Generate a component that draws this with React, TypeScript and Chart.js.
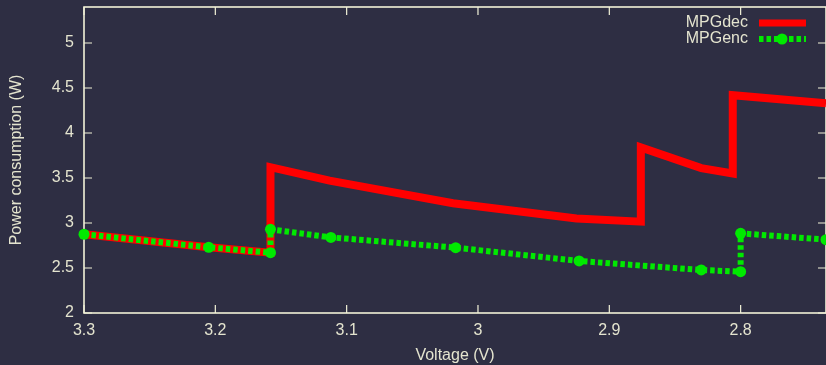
import React, { useEffect, useRef } from "react";
import { Chart, registerables } from "chart.js";

Chart.register(...registerables);

// ---- data ----
const xTicks = [3.3, 3.2, 3.1, 3.0, 2.9, 2.8];
const yTicks = [2, 2.5, 3, 3.5, 4, 4.5, 5];
const xMin = 2.735;
const xMax = 3.3;
const yMin = 2;
const yMax = 5.4;

const seriesNames = ["MPGdec", "MPGenc"];

const decVoltage = [3.3, 3.205, 3.158, 3.158, 3.113, 3.019, 2.925, 2.876, 2.876, 2.83, 2.806, 2.806, 2.735];
const decPower = [2.875, 2.73, 2.67, 3.62, 3.47, 3.22, 3.05, 3.015, 3.84, 3.61, 3.55, 4.42, 4.33];

const encVoltage = [3.3, 3.205, 3.158, 3.158, 3.112, 3.017, 2.923, 2.83, 2.8, 2.8, 2.735];
const encPower = [2.875, 2.73, 2.67, 2.93, 2.84, 2.726, 2.578, 2.478, 2.459, 2.885, 2.815];

const xTitle = "Voltage (V)";
const yTitle = "Power consumption (W)";

// ---- styles ----
const BG = "#2e2e43";
const FRAME = "#f2f2d8";
const TEXT = "#e4e4cf";
const RED = "#ff0000";
const GREEN = "#00ea00";
const FONT = "'Liberation Sans', Arial, Helvetica, sans-serif";

const framePlugin = {
  id: "frameTicks",
  beforeDraw(chart: any) {
    const { ctx, width, height } = chart;
    ctx.save();
    ctx.fillStyle = BG;
    ctx.fillRect(0, 0, width, height);
    ctx.restore();
  },
  beforeDatasetsDraw(chart: any) {
    const { ctx, chartArea, scales } = chart;
    const { left, right, top, bottom } = chartArea;
    const x = scales.x;
    const y = scales.y;
    ctx.save();
    ctx.strokeStyle = FRAME;
    ctx.lineWidth = 1.6;
    ctx.strokeRect(left, top, right - left, bottom - top);
    ctx.lineWidth = 1.2;
    ctx.beginPath();
    const tl = 8;
    for (const v of xTicks) {
      const px = x.getPixelForValue(v);
      ctx.moveTo(px, bottom);
      ctx.lineTo(px, bottom - tl);
      ctx.moveTo(px, top);
      ctx.lineTo(px, top + tl);
    }
    for (const v of yTicks) {
      const py = y.getPixelForValue(v);
      ctx.moveTo(left, py);
      ctx.lineTo(left + tl, py);
      ctx.moveTo(right, py);
      ctx.lineTo(right - tl, py);
    }
    ctx.stroke();
    ctx.restore();
  },
  afterDraw(chart: any) {
    const { ctx } = chart;
    ctx.save();
    ctx.font = `16px ${FONT}`;
    ctx.textAlign = "right";
    ctx.textBaseline = "middle";
    chart.data.datasets.forEach((ds: any, i: number) => {
      const cy = 23 + i * 16;
      ctx.fillStyle = TEXT;
      ctx.fillText(ds.label, 748, cy);
      ctx.strokeStyle = ds.borderColor;
      ctx.lineWidth = Math.min(ds.borderWidth, 7);
      ctx.lineCap = "butt";
      ctx.setLineDash(ds.borderDash || []);
      ctx.beginPath();
      ctx.moveTo(759, cy);
      ctx.lineTo(806, cy);
      ctx.stroke();
      ctx.setLineDash([]);
      if (ds.pointRadius > 0) {
        ctx.fillStyle = ds.pointBackgroundColor;
        ctx.beginPath();
        ctx.arc(782, cy, ds.pointRadius, 0, Math.PI * 2);
        ctx.fill();
      }
    });
    ctx.restore();
  },
};

export default function App() {
  const canvasRef = useRef<HTMLCanvasElement | null>(null);

  useEffect(() => {
    document.body.style.margin = "0";
    document.body.style.background = BG;
    const canvas = canvasRef.current;
    if (!canvas) return;

    const decData = decVoltage.map((v, i) => ({ x: v, y: decPower[i] }));
    const encData = encVoltage.map((v, i) => ({ x: v, y: encPower[i] }));

    const chart = new Chart(canvas, {
      type: "line",
      data: {
        datasets: [
          {
            label: seriesNames[0],
            data: decData,
            borderColor: RED,
            backgroundColor: RED,
            borderWidth: 8,
            pointRadius: 0,
            pointHoverRadius: 0,
            tension: 0,
            fill: false,
            clip: false as any,
            borderJoinStyle: "miter",
            order: 2,
          } as any,
          {
            label: seriesNames[1],
            data: encData,
            borderColor: GREEN,
            backgroundColor: GREEN,
            borderWidth: 6,
            borderDash: [4.5, 3],
            borderCapStyle: "butt",
            pointRadius: 5.5,
            pointHoverRadius: 5.5,
            pointBackgroundColor: GREEN,
            pointBorderColor: GREEN,
            pointBorderWidth: 0,
            tension: 0,
            fill: false,
            clip: false as any,
            order: 1,
          } as any,
        ],
      },
      options: {
        animation: false,
        responsive: false,
        maintainAspectRatio: false,
        events: [],
        layout: { autoPadding: false, padding: { top: 7, left: 0, right: 0, bottom: 0 } },
        plugins: {
          legend: { display: false },
          tooltip: { enabled: false },
          title: { display: false },
        },
        scales: {
          x: {
            type: "linear",
            reverse: true,
            min: xMin,
            max: xMax,
            grid: { display: false, drawTicks: false, tickLength: 0 },
            border: { display: false },
            ticks: {
              color: TEXT,
              font: { family: FONT, size: 16 },
              padding: 8,
              maxRotation: 0,
              autoSkip: false,
              callback: (v: any) => String(Number(v)),
            },
            afterBuildTicks: (scale: any) => {
              scale.ticks = xTicks.map((v) => ({ value: v }));
            },
            afterFit: (scale: any) => {
              scale.height = 52;
              scale.paddingLeft = 0;
              scale.paddingRight = 0;
            },
            title: {
              display: true,
              text: xTitle,
              color: TEXT,
              font: { family: FONT, size: 16 },
              padding: { top: 0, bottom: 0 },
            },
          },
          y: {
            type: "linear",
            min: yMin,
            max: yMax,
            grid: { display: false, drawTicks: false, tickLength: 0 },
            border: { display: false },
            ticks: {
              color: TEXT,
              font: { family: FONT, size: 16 },
              padding: 10,
              autoSkip: false,
              callback: (v: any) => String(Number(v)),
            },
            afterBuildTicks: (scale: any) => {
              scale.ticks = yTicks.map((v) => ({ value: v }));
            },
            afterFit: (scale: any) => {
              scale.width = 84;
              scale.paddingTop = 0;
              scale.paddingBottom = 0;
            },
            title: {
              display: true,
              text: yTitle,
              color: TEXT,
              font: { family: FONT, size: 16 },
              padding: { top: 7, bottom: 0 },
            },
          },
        },
      },
      plugins: [framePlugin],
    });

    return () => {
      chart.destroy();
    };
  }, []);

  return (
    <div style={{ width: 826, height: 365, background: BG }}>
      <canvas ref={canvasRef} width={826} height={365} style={{ display: "block" }} />
    </div>
  );
}
